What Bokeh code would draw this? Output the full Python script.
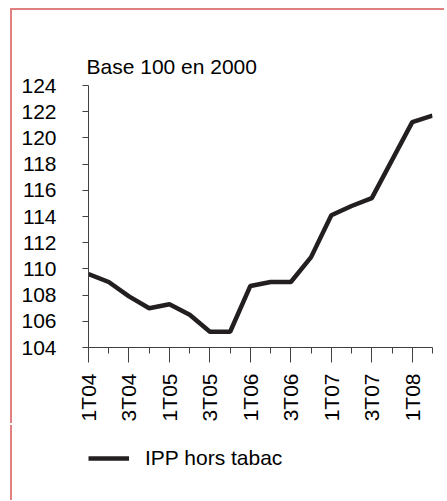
import math
from bokeh.plotting import figure
from bokeh.layouts import column
from bokeh.models import FixedTicker, Legend, LegendItem, Title
from bokeh.embed import file_html
from bokeh.resources import INLINE

quarters = ["1T04", "2T04", "3T04", "4T04", "1T05", "2T05", "3T05", "4T05",
            "1T06", "2T06", "3T06", "4T06", "1T07", "2T07", "3T07", "4T07",
            "1T08", "2T08"]
ipp = [109.6, 109.0, 107.9, 107.0, 107.3, 106.5, 105.2, 105.2,
       108.7, 109.0, 109.0, 110.9, 114.1, 114.8, 115.4, 118.3,
       121.2, 121.7]
y_ticks = [104, 106, 108, 110, 112, 114, 116, 118, 120, 122, 124]
title_text = "Base 100 en 2000"
series_name = "IPP hors tabac"

FONT = "Liberation Sans"
FS = "21px"
LINE_COLOR = "#231f20"
AXIS_COLOR = "#404040"

xs = list(range(len(quarters)))

# ---- main chart ----
p = figure(width=434, height=415, output_backend="svg", toolbar_location=None,
           x_range=(0, len(quarters) - 1), y_range=(104, 124),
           min_border_left=76, min_border_right=14, min_border_top=75,
           min_border_bottom=78)
p.styles = {"margin-left": "12px", "margin-top": "10px",
            "box-shadow": "-2px -2px 0px 0px #e08080"}
p.outline_line_color = None
p.xgrid.visible = False
p.ygrid.visible = False
p.background_fill_color = "white"
p.border_fill_color = "white"

r = p.line(xs, ipp, line_color=LINE_COLOR, line_width=4.5)

xa = p.xaxis[0]
xa.ticker = FixedTicker(ticks=xs[::2], minor_ticks=xs)
xa.major_label_overrides = {i: q for i, q in enumerate(quarters)}
xa.major_label_orientation = math.pi / 2
xa.major_label_text_font = FONT
xa.major_label_text_font_size = FS
xa.major_label_text_color = "black"
xa.major_label_standoff = 11
xa.major_tick_in = 0
xa.major_tick_out = 15
xa.minor_tick_in = 0
xa.minor_tick_out = 6
xa.axis_line_color = AXIS_COLOR
xa.major_tick_line_color = AXIS_COLOR
xa.minor_tick_line_color = AXIS_COLOR

ya = p.yaxis[0]
ya.ticker = FixedTicker(ticks=y_ticks, minor_ticks=[])
ya.major_label_text_font = FONT
ya.major_label_text_font_size = FS
ya.major_label_text_color = "black"
ya.major_label_standoff = 26
ya.major_tick_in = 0
ya.major_tick_out = 6
ya.axis_line_color = AXIS_COLOR
ya.major_tick_line_color = AXIS_COLOR

p.title = Title(text=title_text, text_font=FONT, text_font_size=FS,
                text_font_style="normal", text_color="black", align="left",
                standoff=16, offset=-2)

# ---- legend strip ----
pl = figure(width=434, height=75, output_backend="svg", toolbar_location=None,
            x_range=(100, 101), y_range=(0, 1), x_axis_type=None,
            y_axis_type=None, min_border=0)
pl.styles = {"margin-left": "12px", "box-shadow": "-2px 0px 0px 0px #e08080"}
pl.outline_line_color = None
pl.xgrid.visible = False
pl.ygrid.visible = False
pl.background_fill_color = "white"
pl.border_fill_color = "white"
rl = pl.line(xs, ipp, line_color=LINE_COLOR, line_width=4.5)

legend = Legend(items=[LegendItem(label=series_name, renderers=[rl])],
                location=(0, 30), padding=0, margin=0, border_line_color=None,
                background_fill_alpha=0, glyph_width=41, glyph_height=24,
                label_standoff=16, label_text_font=FONT, label_text_font_size=FS,
                label_text_color="black")
pl.add_layout(legend, "center")

layout = column(p, pl, spacing=0)

open("out.html", "w").write(file_html(layout, INLINE))
